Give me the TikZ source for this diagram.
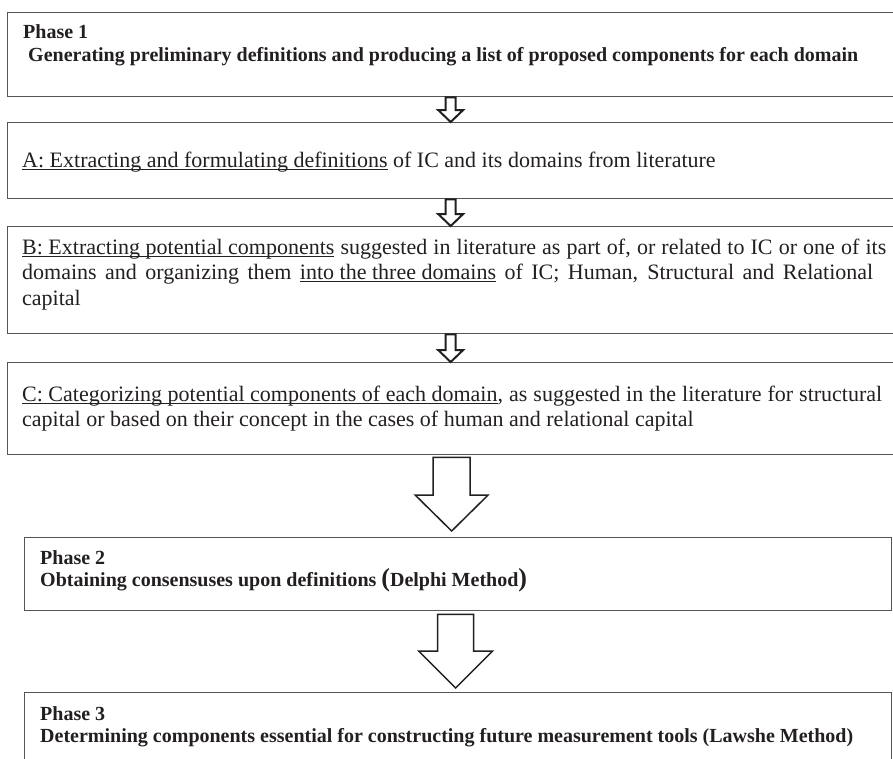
\documentclass[tikz,border=0pt]{standalone}
\usepackage{fontspec}
\setmainfont{Liberation Serif}
\usetikzlibrary{calc}
\definecolor{inkblack}{HTML}{231F20}
\definecolor{boxgray}{HTML}{555555}
\tikzset{box/.style = {draw=boxgray, line width=1.3pt, inner sep=0pt, anchor=north west},
         txt/.style = {anchor=base west, inner sep=0pt, text=inkblack, font=\fontsize{22}{25}\selectfont},
         boldtxt/.style = {txt, font=\fontsize{20}{22}\selectfont\bfseries},
         arrowshape/.style = {draw=inkblack, fill=white, line join=miter}}
% underline close to the baseline
\newcommand{\ulbox}[1]{\setbox0\hbox{#1}\rlap{\rule[-2.5pt]{\wd0}{1pt}}\box0\relax}
% block arrow: start, tip, stem half width, head half width, head length
\newcommand{\blockarrow}[6][1.5pt]{%
\draw[arrowshape, line width=#1] let \p1 = ($#2$), \p2 = ($#3$) in
  (\x1-#4pt,\y1) -- (\x1+#4pt,\y1) -- (\x1+#4pt,\y2+#6pt) -- (\x1+#5pt,\y2+#6pt)
  -- (\x1,\y2) -- (\x1-#5pt,\y2+#6pt) -- (\x1-#4pt,\y2+#6pt) -- cycle;}
\begin{document}
\begin{tikzpicture}[x=1pt, y=-1pt]
\useasboundingbox (0,0) rectangle (893,758);
% boxes
\node[box, minimum width=888, minimum height=84] (p1) at (7,12) {};
\node[box, minimum width=888, minimum height=76] (a) at (7,122) {};
\node[box, minimum width=888, minimum height=107] (b) at (7,226) {};
\node[box, minimum width=888, minimum height=92] (c) at (7,362) {};
\node[box, minimum width=867, minimum height=73] (p2) at (24,537) {};
\node[box, minimum width=867, minimum height=70] (p3) at (24,692) {};
% texts
\node[boldtxt] (p1title) at (23,38) {Phase 1};
\node[boldtxt] (p1text) at (28,61) {Generating preliminary definitions and producing a list of proposed components for each domain};
\node[txt] (atext) at (22,167) {\ulbox{A: Extracting and formulating definitions} of IC and its domains from literature};
\node[txt] (btext1) at (22,254) {\makebox[864pt][s]{\ulbox{B: Extracting potential components} suggested in literature as part of, or related to IC or one of its}};
\node[txt] (btext2) at (22,279.5) {\makebox[851pt][s]{domains and organizing them \ulbox{into the three domains} of IC; Human, Structural and Relational}};
\node[txt] (btext3) at (22,305) {capital};
\node[txt] (ctext1) at (22,401) {\makebox[860pt][s]{\ulbox{C: Categorizing potential components of each domain}, as suggested in the literature for structural}};
\node[txt] (ctext2) at (22,426) {capital or based on their concept in the cases of human and relational capital};
\node[boldtxt] (p2title) at (40,564) {Phase 2};
\node[boldtxt] (p2text) at (40,586) {Obtaining consensuses upon definitions {\fontsize{26}{26}\selectfont(}Delphi Method{\fontsize{26}{26}\selectfont)}};
\node[boldtxt] (p3title) at (40,720) {Phase 3};
\node[boldtxt] (p3text) at (40,742) {Determining components essential for constructing future measurement tools (Lawshe Method)};
% arrows
\blockarrow[2pt]{(p1.south)+(-1,0)}{(a.north)+(-1,0)}{5}{12.5}{12}
\blockarrow[2pt]{(a.south)+(-1,0)}{(b.north)+(-1,0)}{5}{12.5}{12}
\blockarrow[2pt]{(b.south)+(-1,0)}{(c.north)+(-1,0)}{5}{12.5}{12}
\blockarrow{(c.south)+(0,2)}{(p2.north)+(-6.5,-6)}{18.5}{36.5}{36}
\blockarrow{(p2.south)+(-2.5,3)}{(p3.north)+(-2.5,-4)}{18}{37}{37}
\end{tikzpicture}
\end{document}
